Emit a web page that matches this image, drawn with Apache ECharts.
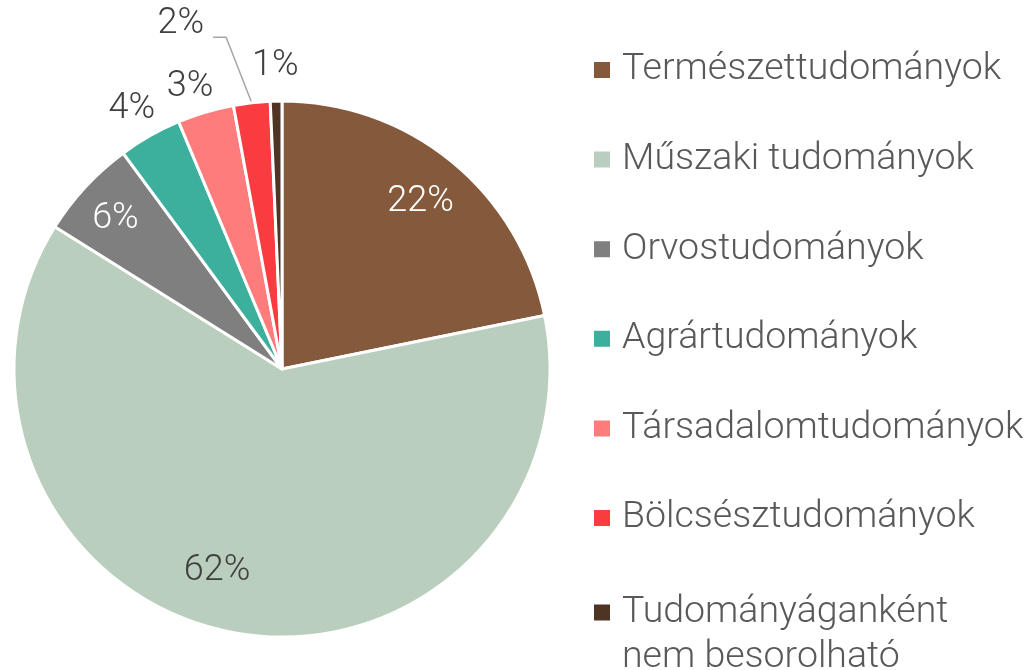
<!DOCTYPE html>
<html>
<head>
<meta charset="utf-8">
<script src="https://cdn.jsdelivr.net/npm/echarts@6/dist/echarts.min.js"></script>
<style>
  html, body { margin: 0; padding: 0; background: #fff; }
  #chart { width: 1030px; height: 670px; }
</style>
</head>
<body>
<div id="chart"></div>
<script>
// adatok
var categories = ['Természettudományok', 'Műszaki tudományok', 'Orvostudományok', 'Agrártudományok',
  'Társadalomtudományok', 'Bölcsésztudományok', 'Tudományáganként nem besorolható'];
var values = [21.8, 62.1, 6.0, 3.8, 3.4, 2.2, 0.7];
var colors = ['#85593C', '#B9CEBD', '#7F7F7F', '#3CB09C', '#FF7C7C', '#FA3B40', '#4F3424'];

var innerLabels = [0, 1, 2];     // feliratok a szeleten belül
var outerLabels = [3, 4, 6];     // feliratok a kör mellett
var leaderLabels = [5];          // vezetővonallal

// felirat-eltolások (Excel "best fit" utánzása)
var labelShift = { 0: [0, 3], 1: [-26, -13], 2: [-6, -1], 3: [0, 5], 4: [-5, 10], 6: [0, 2] };

var FONT = 'Roboto';
var center = [282, 369];
var R = 268;

function pct(p) { return Math.round(p.percent) + '%'; }

function buildData(show, labelFn) {
  return categories.map(function (name, i) {
    var item = { name: name, value: values[i] };
    item.label = labelFn(i, show.indexOf(i) >= 0);
    return item;
  });
}

function shiftLayout(params) {
  var s = labelShift[params.dataIndex];
  return s ? { dx: s[0], dy: s[1] } : {};
}

// a vezetővonal könyökét és végét balra toljuk, mint az Excelben
function leaderLayout(params) {
  if (leaderLabels.indexOf(params.dataIndex) < 0) return {};
  var pts = params.labelLinePoints;
  if (!pts) return { dx: -22, dy: -11 };
  return {
    dx: -22, dy: -11,
    labelLinePoints: [pts[0], [pts[1][0] - 18, pts[1][1] + 2], [pts[2][0] - 18, pts[2][1] + 2]]
  };
}

var chart = echarts.init(document.getElementById('chart'));

var legendText = { fontFamily: FONT, fontWeight: 300, fontSize: 37.5, color: '#595959', lineHeight: 44, padding: [0, 0, 0, 6] };

var option = {
  animation: false,
  color: colors,
  legend: [{
    orient: 'vertical',
    left: 592,
    top: 48,
    padding: 0,
    itemWidth: 18,
    itemHeight: 18,
    itemGap: 45.6,
    icon: 'rect',
    selectedMode: false,
    data: categories.slice(0, 6),
    textStyle: legendText
  }, {
    orient: 'vertical',
    left: 592,
    top: 545,
    padding: 0,
    itemWidth: 18,
    itemHeight: 18,
    icon: 'rect',
    selectedMode: false,
    data: categories.slice(6),
    // üres első sor, hogy a jel az első szövegsorhoz igazodjon
    formatter: function () { return ' \nTudományáganként\nnem besorolható'; },
    textStyle: echarts.util.extend(echarts.util.clone(legendText), { lineHeight: 45 })
  }],
  series: [{
    // fő kördiagram
    type: 'pie',
    center: center,
    radius: [0, R],
    startAngle: 90,
    clockwise: true,
    avoidLabelOverlap: false,
    itemStyle: { borderColor: '#fff', borderWidth: 3 },
    emphasis: { disabled: true },
    labelLine: { show: true, length: 68, length2: 13, lineStyle: { color: '#A6A6A6', width: 1.5 } },
    labelLayout: leaderLayout,
    data: buildData(leaderLabels, function (i, on) {
      return {
        show: on, position: 'outside', formatter: pct, distance: 6,
        fontFamily: FONT, fontWeight: 300, fontSize: 36, color: '#404040'
      };
    }).map(function (d, i) {
      d.labelLine = { show: leaderLabels.indexOf(i) >= 0 };
      return d;
    })
  }, {
    // belső feliratok
    type: 'pie',
    center: center,
    radius: [164, R],
    startAngle: 90,
    silent: true,
    avoidLabelOverlap: false,
    itemStyle: { color: 'rgba(0,0,0,0)', borderWidth: 0 },
    emphasis: { disabled: true },
    labelLine: { show: false },
    labelLayout: shiftLayout,
    data: buildData(innerLabels, function (i, on) {
      return {
        show: on, position: 'inside', formatter: pct,
        fontFamily: FONT, fontWeight: 300, fontSize: 36,
        color: i === 1 ? '#404040' : '#ffffff'
      };
    })
  }, {
    // külső feliratok
    type: 'pie',
    center: center,
    radius: [R, 336],
    startAngle: 90,
    silent: true,
    avoidLabelOverlap: false,
    itemStyle: { color: 'rgba(0,0,0,0)', borderWidth: 0 },
    emphasis: { disabled: true },
    labelLine: { show: false },
    labelLayout: shiftLayout,
    data: buildData(outerLabels, function (i, on) {
      return {
        show: on, position: 'inside', formatter: pct,
        fontFamily: FONT, fontWeight: 300, fontSize: 36, color: '#404040'
      };
    })
  }]
};

chart.setOption(option);
</script>
</body>
</html>
